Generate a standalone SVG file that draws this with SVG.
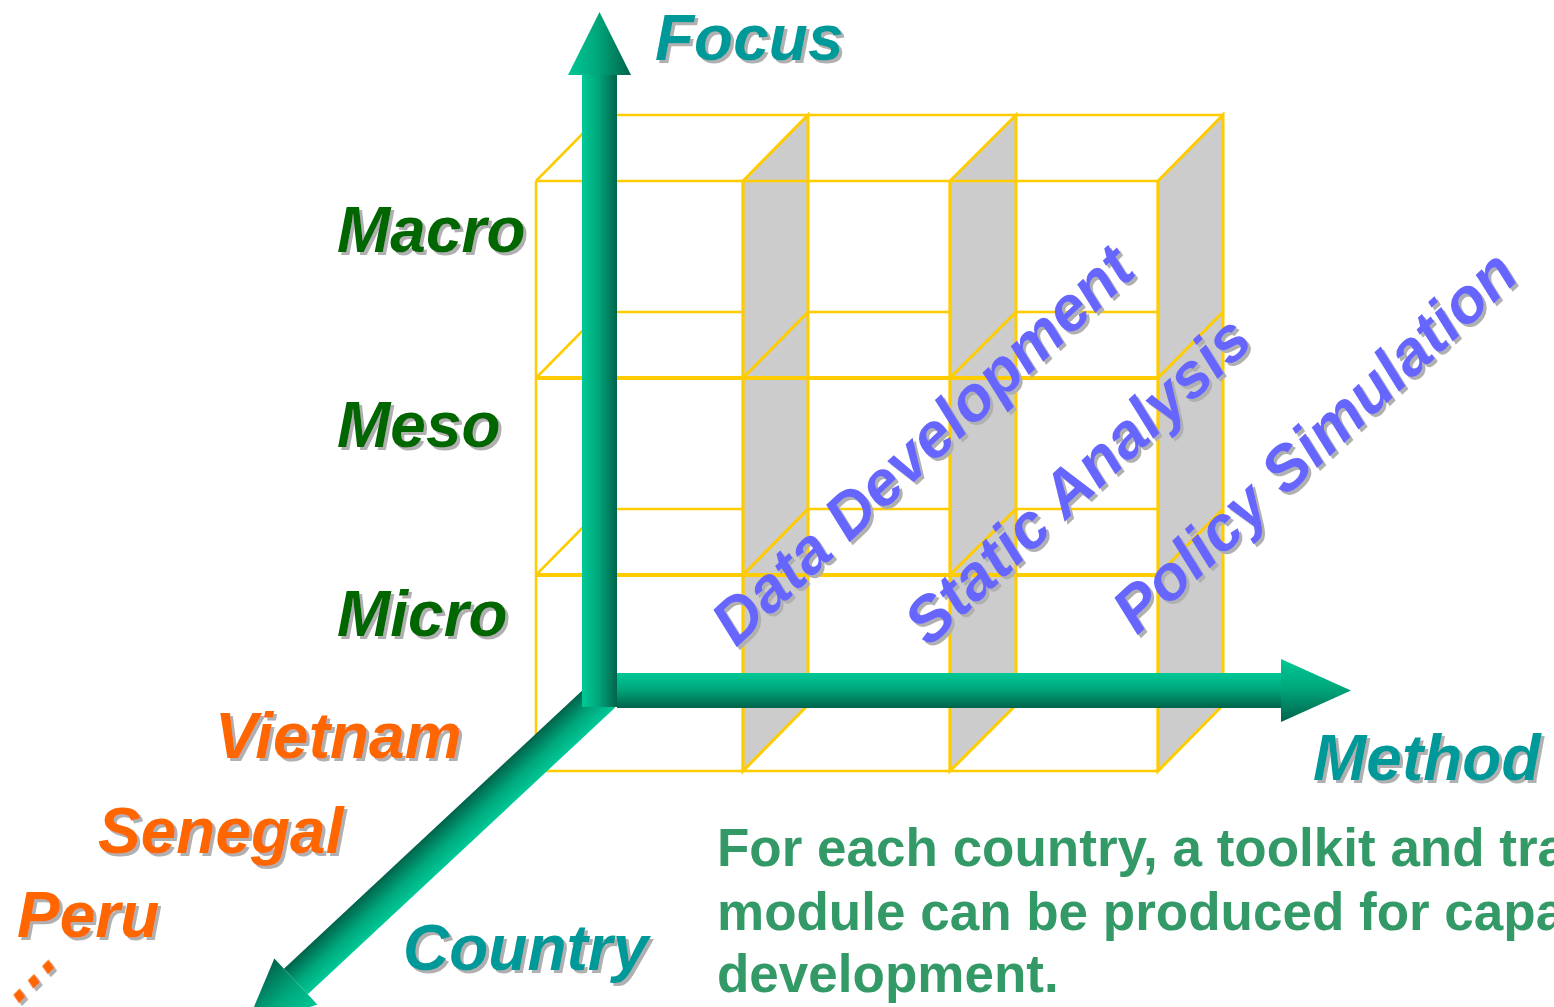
<svg xmlns="http://www.w3.org/2000/svg" width="1554" height="1007" viewBox="0 0 1554 1007">
<style>
.back{stroke:#FFCC00;stroke-width:2.5;fill:none}
.front{stroke:#FFCC00;stroke-width:2.5;fill:none}
.thick{stroke:#FFCC00;stroke-width:4;fill:none}
.panel{fill:#CCCCCC;stroke:#FFCC00;stroke-width:3}
.lbl{font-family:"Liberation Sans",Arial,sans-serif;font-weight:bold;font-style:italic;font-size:64px}
.axis{fill:#009999}
.level{fill:#006600}
.country{fill:#FF6600}
.method{fill:#6666FF;font-size:63px}
.note{font-family:"Liberation Sans",Arial,sans-serif;font-weight:bold;font-size:53px;fill:#339966}
</style>
<defs>
<linearGradient id="grad" x1="0" y1="0" x2="0" y2="1">
<stop offset="0" stop-color="#00C896"/>
<stop offset="0.45" stop-color="#00A87C"/>
<stop offset="1" stop-color="#00634B"/>
</linearGradient>
<filter id="sh" x="-10%" y="-10%" width="130%" height="140%">
<feDropShadow dx="3" dy="3" stdDeviation="0.6" flood-color="#B0B0B0" flood-opacity="1"/>
</filter>
</defs>

<g id="cube">
<g id="back-lines">
<line class="back" x1="601" y1="115" x2="1223" y2="115"/>
<line class="back" x1="601" y1="312" x2="1223" y2="312"/>
<line class="back" x1="601" y1="509" x2="1223" y2="509"/>
<line class="back" x1="601" y1="705" x2="1223" y2="705"/>
<line class="back" x1="601" y1="115" x2="601" y2="705"/>
<line class="back" x1="536" y1="181" x2="601" y2="115"/>
<line class="back" x1="536" y1="378" x2="601" y2="312"/>
<line class="back" x1="536" y1="575" x2="601" y2="509"/>
</g>
<g id="panels">
<polygon class="panel" points="743,181 808,115 808,705 743,771"/>
<polygon class="panel" points="950,181 1016,115 1016,705 950,771"/>
<polygon class="panel" points="1158,181 1223,115 1223,705 1158,771"/>
<line class="panel" x1="743" y1="378" x2="808" y2="312"/>
<line class="panel" x1="743" y1="575" x2="808" y2="509"/>
<line class="panel" x1="950" y1="378" x2="1016" y2="312"/>
<line class="panel" x1="950" y1="575" x2="1016" y2="509"/>
<line class="panel" x1="1158" y1="378" x2="1223" y2="312"/>
<line class="panel" x1="1158" y1="575" x2="1223" y2="509"/>
</g>
<g id="front-lines">
<line class="front" x1="536" y1="181" x2="1158" y2="181"/>
<line class="thick" x1="536" y1="378" x2="1158" y2="378"/>
<line class="thick" x1="536" y1="575" x2="1158" y2="575"/>
<line class="front" x1="536" y1="771" x2="1158" y2="771"/>
<line class="front" x1="536" y1="181" x2="536" y2="771"/>
<line class="front" x1="743" y1="181" x2="743" y2="771"/>
<line class="front" x1="950" y1="181" x2="950" y2="771"/>
<line class="front" x1="1158" y1="181" x2="1158" y2="771"/>
</g>
</g>

<g id="connectors">
<g id="arrow-country" transform="translate(603,695) rotate(137)">
<rect x="0" y="-17.5" width="420" height="35" fill="url(#grad)"/>
<polygon points="420,-31.5 490,0 420,31.5" fill="url(#grad)"/>
</g>
<g id="arrow-method" transform="translate(617,690.5)">
<rect x="0" y="-17.5" width="664" height="35" fill="url(#grad)"/>
<polygon points="664,-31.5 734,0 664,31.5" fill="url(#grad)"/>
</g>
<g id="arrow-focus" transform="translate(599.5,707) rotate(-90)">
<rect x="0" y="-17.5" width="632" height="35" fill="url(#grad)"/>
<polygon points="632,-31.5 695,0 632,31.5" fill="url(#grad)"/>
</g>
</g>

<g id="labels" filter="url(#sh)">
<text id="focus" class="lbl axis" x="655" y="60">Focus</text>
<text id="method" class="lbl axis" x="1313" y="780">Method</text>
<text id="country" class="lbl axis" x="403" y="970">Country</text>
<text id="macro" class="lbl level" x="337" y="252">Macro</text>
<text id="meso" class="lbl level" x="337" y="447">Meso</text>
<text id="micro" class="lbl level" x="337" y="636">Micro</text>
<text id="vietnam" class="lbl country" x="215" y="758">Vietnam</text>
<text id="senegal" class="lbl country" x="98" y="853">Senegal</text>
<text id="peru" class="lbl country" x="17" y="937">Peru</text>
<text id="more" class="lbl country" transform="translate(16,1006) rotate(-45)">…</text>
<text id="data-dev" class="lbl method" transform="translate(736,648) rotate(-43)">Data Development</text>
<text id="static" class="lbl method" transform="translate(929,648) rotate(-43)">Static Analysis</text>
<text id="policy" class="lbl method" transform="translate(1137,636) rotate(-43)">Policy Simulation</text>
</g>

<g id="note">
<text class="note" x="717" y="866">For each country, a toolkit and tra</text>
<text class="note" x="717" y="930">module can be produced for capa</text>
<text class="note" x="717" y="992">development.</text>
</g>
</svg>
